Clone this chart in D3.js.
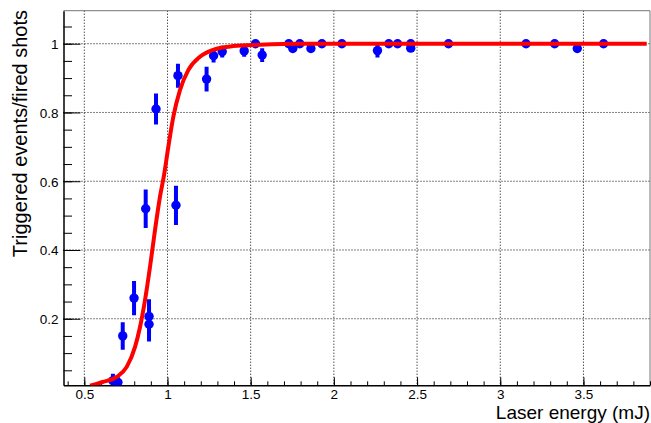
<!DOCTYPE html>
<html>
<head>
<meta charset="utf-8">
<script src="https://cdn.jsdelivr.net/npm/d3@7"></script>
<style>
  body { margin: 0; background: #fff; }
  text { font-family: 'Liberation Sans', Arial, sans-serif; }
</style>
</head>
<body>
<div id="chart"></div>
<script>
const energy = [0.672, 0.702, 0.731, 0.799, 0.869, 0.889, 0.889, 0.931, 1.051, 1.063,
  1.235, 1.277, 1.329, 1.461, 1.529, 1.569, 1.729, 1.753, 1.795, 1.862, 1.928, 2.048,
  2.262, 2.330, 2.383, 2.462, 2.462, 2.689, 3.155, 3.327, 3.463, 3.621];
const efficiency = [0.02, 0.015, 0.15, 0.26, 0.52, 0.207, 0.184, 0.81, 0.53, 0.907,
  0.897, 0.965, 0.977, 0.979, 1.0, 0.967, 1.0, 0.986, 1.0, 0.986, 1.0, 1.0,
  0.98, 1.0, 1.0, 1.0, 0.987, 1.0, 1.0, 1.0, 0.986, 1.0];
const errors = [0.02, 0.015, 0.04, 0.05, 0.056, 0.05, 0.05, 0.045, 0.057, 0.035,
  0.036, 0.02, 0.017, 0.017, 0, 0.02, 0, 0.01, 0, 0.01, 0, 0,
  0.02, 0, 0, 0, 0.01, 0, 0, 0, 0.01, 0];

// fit curve
const fitX = [0.535, 0.61, 0.695, 0.755, 0.805, 0.835, 0.865, 0.895, 0.925, 0.955, 0.98,
  1.005, 1.035, 1.075, 1.125, 1.195, 1.275, 1.395, 1.555, 1.8, 3.88];
const fitY = [0.005, 0.016, 0.031, 0.06, 0.118, 0.176, 0.254, 0.351, 0.458, 0.555, 0.62,
  0.70, 0.787, 0.865, 0.923, 0.962, 0.982, 0.993, 0.997, 1.0, 1.0];

const xTicks = [0.5, 1, 1.5, 2, 2.5, 3, 3.5];
const yTicks = [0.2, 0.4, 0.6, 0.8, 1];

const width = 651, height = 423;
const frame = { left: 63.5, right: 650, top: 10.7, bottom: 385.3 };

const svg = d3.select('#chart').append('svg')
  .attr('width', width)
  .attr('height', height);

const x = d3.scaleLinear().domain([0.375, 3.9]).range([frame.left, frame.right]);
const y = d3.scaleLinear().domain([0.0064, 1.096]).range([frame.bottom, frame.top]);

svg.append('defs').append('clipPath').attr('id', 'clip')
  .append('rect')
  .attr('x', frame.left).attr('y', frame.top)
  .attr('width', frame.right - frame.left)
  .attr('height', frame.bottom - frame.top);

// grid
const grid = svg.append('g')
  .attr('stroke', '#000')
  .attr('stroke-width', 1)
  .attr('stroke-dasharray', '1,2');
grid.selectAll('.gx').data(xTicks).enter().append('line')
  .attr('x1', d => x(d)).attr('x2', d => x(d))
  .attr('y1', frame.top).attr('y2', frame.bottom);
grid.selectAll('.gy').data(yTicks).enter().append('line')
  .attr('y1', d => y(d)).attr('y2', d => y(d))
  .attr('x1', frame.left).attr('x2', frame.right);

// frame top/right
svg.append('path')
  .attr('d', `M${frame.left},${frame.top}H${frame.right}V${frame.bottom}`)
  .attr('fill', 'none')
  .attr('stroke', '#777')
  .attr('stroke-width', 1);

// x axis
const xMinor = d3.range(4, 40).map(d => d / 10);
svg.append('g')
  .attr('transform', `translate(0,${frame.bottom})`)
  .call(d3.axisBottom(x).tickValues(xMinor).tickSize(-4).tickSizeOuter(0).tickFormat(''))
  .call(g => g.select('.domain').remove());
const xAxis = svg.append('g')
  .attr('transform', `translate(0,${frame.bottom})`)
  .call(d3.axisBottom(x).tickValues(xTicks).tickSize(-8).tickSizeOuter(0)
    .tickFormat(d3.format('')));
xAxis.select('.domain').attr('stroke', '#000').attr('stroke-width', 1.5);
xAxis.selectAll('text')
  .attr('font-size', 13.5)
  .attr('fill', '#000')
  .attr('dy', null)
  .attr('y', 13.5);

// y axis
const yMinor = d3.range(1, 22).map(d => d * 0.05);
svg.append('g')
  .attr('transform', `translate(${frame.left},0)`)
  .call(d3.axisLeft(y).tickValues(yMinor).tickSize(-8.5).tickSizeOuter(0).tickFormat(''))
  .call(g => g.select('.domain').remove());
const yAxis = svg.append('g')
  .attr('transform', `translate(${frame.left},0)`)
  .call(d3.axisLeft(y).tickValues(yTicks).tickSize(-17).tickSizeOuter(0)
    .tickPadding(5).tickFormat(d3.format('')));
yAxis.select('.domain').attr('stroke', '#000').attr('stroke-width', 1.5);
yAxis.selectAll('text')
  .attr('font-size', 13.5)
  .attr('fill', '#000')
  .attr('dy', '0.36em');

// titles
svg.append('text')
  .attr('x', 650)
  .attr('y', 419)
  .attr('text-anchor', 'end')
  .attr('font-size', 19)
  .text('Laser energy (mJ)');
svg.append('text')
  .attr('transform', 'translate(27,10) rotate(-90)')
  .attr('text-anchor', 'end')
  .attr('font-size', 20)
  .text('Triggered events/fired shots');

// data points
const points = energy.map((e, i) => ({ e: e, v: efficiency[i], err: errors[i] }));
const plot = svg.append('g').attr('clip-path', 'url(#clip)');

plot.selectAll('.err').data(points).enter().append('line')
  .attr('x1', d => x(d.e)).attr('x2', d => x(d.e))
  .attr('y1', d => y(d.v - d.err))
  .attr('y2', d => y(Math.min(d.v + d.err, 1)))
  .attr('stroke', '#0000ff')
  .attr('stroke-width', 4);

plot.selectAll('circle').data(points).enter().append('circle')
  .attr('cx', d => x(d.e))
  .attr('cy', d => y(d.v))
  .attr('r', 4.7)
  .attr('fill', '#0000ff');

// fit
const line = d3.line()
  .x(d => x(d[0]))
  .y(d => y(d[1]))
  .curve(d3.curveMonotoneX);
plot.append('path')
  .datum(fitX.map((v, i) => [v, fitY[i]]))
  .attr('d', line)
  .attr('fill', 'none')
  .attr('stroke', '#ff0000')
  .attr('stroke-width', 4);
</script>
</body>
</html>
